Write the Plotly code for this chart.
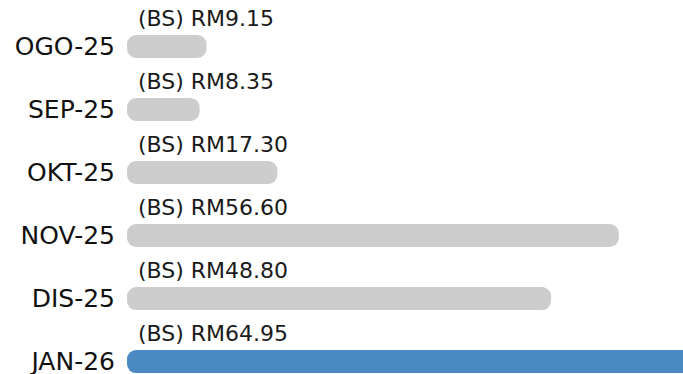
import plotly.graph_objects as go

categories = ["OGO-25", "SEP-25", "OKT-25", "NOV-25", "DIS-25", "JAN-26"]
values = [9.15, 8.35, 17.30, 56.60, 48.80, 64.95]
label_prefix = "(BS) RM"
highlight = "JAN-26"

GRAY = "#cdcdcd"
BLUE = "#4a89c2"
colors = [BLUE if c == highlight else GRAY for c in categories]

fig = go.Figure()
# explicit base -> plotly rounds all four corners
fig.add_trace(go.Bar(
    y=categories, x=values, base=[0] * len(values),
    orientation="h", marker=dict(color=colors, cornerradius=9, line=dict(width=0)),
    hoverinfo="skip", showlegend=False,
))

for c, v in zip(categories, values):
    fig.add_annotation(
        x=0, y=c, xref="x", yref="y", text=f"{label_prefix}{v:.2f}",
        showarrow=False, xanchor="left", yanchor="middle", xshift=9, yshift=28,
        font=dict(family="DejaVu Sans", size=22, color="#1a1a1a"),
    )

px_per_unit = 8.69
fig_w, fig_h = 683, 374
left = 127
plot_w = fig_w - left
fig.update_layout(
    width=fig_w, height=fig_h,
    margin=dict(l=left, r=0, t=0, b=0, autoexpand=False),
    paper_bgcolor="white", plot_bgcolor="white",
    bargap=0.635,
    xaxis=dict(range=[0, plot_w / px_per_unit], showgrid=False, zeroline=False,
               showticklabels=False, ticks="", showline=False, fixedrange=True),
    yaxis=dict(type="category", categoryorder="array", categoryarray=categories,
               range=[5.198, -0.738], showgrid=False, zeroline=False, showline=False,
               ticks="", ticklabelstandoff=11, fixedrange=True,
               tickfont=dict(family="DejaVu Sans", size=25, color="#111111")),
)

fig.write_html(
    "out.html",
    config={"displayModeBar": False, "staticPlot": True},
    post_script="document.body.style.margin='0';document.body.style.overflow='hidden';",
)
